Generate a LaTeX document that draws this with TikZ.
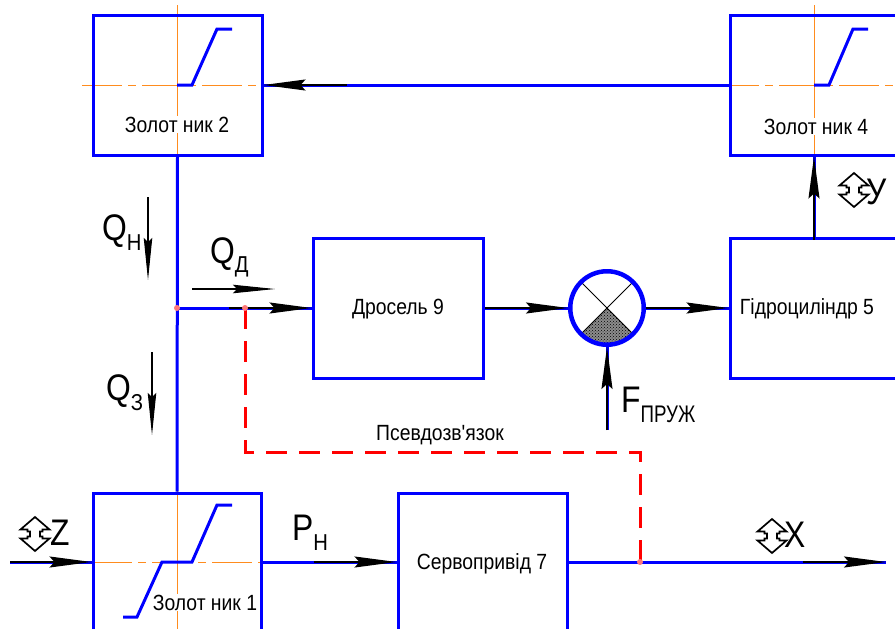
\documentclass[tikz,border=0pt]{standalone}
\usepackage{fontspec}
\newfontfamily\nar[FakeStretch=0.88]{Liberation Sans}
\newfontfamily\narb[FakeStretch=0.86]{Liberation Sans}
\newfontfamily\narr[FakeStretch=0.78]{Liberation Sans}
\usetikzlibrary{arrows.meta,patterns,calc}
\definecolor{orng}{RGB}{255,140,30}
\definecolor{pnk}{RGB}{255,120,120}
\newcommand\bigsub[4]{{\narb\fontsize{37}{37}\selectfont #1}\kern#3\raisebox{#4}{\nar\fontsize{23}{23}\selectfont #2}}
\tikzset{
  blbox/.style={draw=blue, line width=3pt, rectangle, inner sep=0pt},
  bl/.style={draw=blue, line width=3pt},
  ar/.style={draw=black, line width=1.6pt, -{Stealth[length=42pt,width=11pt,inset=5pt]}},
  qar/.style={draw=black, line width=1.1pt, -{Stealth[length=42pt,width=8.5pt,inset=4pt]}},
  cl/.style={draw=orng, line width=0.9pt},
  cldash/.style={draw=orng, line width=0.9pt, dash pattern=on 40pt off 6pt on 8pt off 6pt},
  stepline/.style={draw=blue, line width=3pt, line join=miter},
  boxtxt/.style={font=\nar\fontsize{22}{22}\selectfont, inner sep=1pt, anchor=base},
  lbl/.style={inner sep=0pt, anchor=base west},
  pseudo/.style={draw=red, line width=3pt, dash pattern=on 21pt off 12pt},
  jdot/.style={fill=pnk, draw=none},
  updn/.pic={\draw[line width=1.7pt, line join=miter] (0,-17) -- (-14.5,-4.5) -- (-7.5,-4.5) -- (-7.5,-2.5) -- (-5,-2.5) -- (-5,2.5) -- (-7.5,2.5) -- (-7.5,4.5) -- (-14.5,4.5) -- (0,17) -- (14.5,4.5) -- (7.5,4.5) -- (7.5,2.5) -- (5,2.5) -- (5,-2.5) -- (7.5,-2.5) -- (7.5,-4.5) -- (14.5,-4.5) -- cycle;}
}
\begin{document}
\begin{tikzpicture}[x=1pt,y=-1pt]
\useasboundingbox (0,0) rectangle (895,629);
\clip (0,0) rectangle (895,629);
\fill[white] (0,0) rectangle (895,629);

% centre lines (orange)
\draw[cl] (177,5) -- (177,168);
\draw[cldash] (82,85) -- (272,85);
\draw[cl] (814,5) -- (814,168);
\draw[cldash] (719,85) -- (900,85);
\draw[cl] (177,480) -- (177,640);
\draw[cldash] (92,562) -- (272,562);

% boxes
\node[blbox, minimum width=169pt, minimum height=140pt] (z2) at (177.5,85) {};
\node[blbox, minimum width=172pt, minimum height=140pt] (z4) at (816,85) {};
\node[blbox, minimum width=170pt, minimum height=140pt] (d9) at (398,308) {};
\node[blbox, minimum width=180pt, minimum height=140pt] (g5) at (820,308) {};
\node[blbox, minimum width=168pt, minimum height=138pt] (z1) at (177,562) {};
\node[blbox, minimum width=169pt, minimum height=138pt] (s7) at (482.5,562) {};
\node[draw=blue, line width=3pt, circle, minimum size=75pt, inner sep=0pt] (sum) at (607,308) {};

% summing junction interior
\fill[white] (sum.center) circle (35pt);
\fill[black!45] (sum.center) -- ($(sum.center)+(-25.5,25.5)$) arc[start angle=225, end angle=315, radius=36pt] -- cycle;
\path[pattern=crosshatch dots, pattern color=black] (sum.center) -- ($(sum.center)+(-25.5,25.5)$) arc[start angle=225, end angle=315, radius=36pt] -- cycle;
\draw[black, line width=0.9pt] ($(sum.center)+(-25.5,-25.5)$) -- ($(sum.center)+(25.5,25.5)$);
\draw[black, line width=0.9pt] ($(sum.center)+(25.5,-25.5)$) -- ($(sum.center)+(-25.5,25.5)$);
\draw[blue, line width=3pt] (sum.center) circle (36pt);

% step characteristics
\draw[stepline] (177,85) -- (192,85) -- (217,29) -- (232,29);
\draw[stepline] (814,85) -- (829,85) -- (853,29) -- (868,29);
\draw[stepline] (123,617) -- (137,617) -- (162,562) -- (192,562) -- (217,505) -- (232,505);

% box texts
\node[boxtxt, fill=white] (t2) at (177,132) {Золот ник 2};
\node[boxtxt, fill=white] (t4) at (816,134) {Золот ник 4};
\node[boxtxt] (t9) at (398,314) {Дросель 9};
\node[boxtxt] (t5) at (807,314) {Гідроциліндр 5};
\node[boxtxt] (t7) at (482,569) {Сервопривід 7};
\node[boxtxt, fill=white] (t1) at (205,610) {Золот ник 1};
\node[boxtxt] (tp) at (440,440) {Псевдозв'язок};

% named coordinates
\coordinate (jn) at (177,308);
\coordinate (vx) at (814,0);
\coordinate (fs) at (607,430);
\coordinate (zin) at (10,562);
\coordinate (xout) at (886,562);
\coordinate (pd1) at (245,308);
\coordinate (pm) at (640,452);
\coordinate (pd2) at (640,562);

% connectors (blue)
\draw[bl] (z4.west) -- (z2.east);
\draw[bl] (z2.south) -- (z1.north);
\draw[bl] (jn) -- (d9.west);
\draw[bl] (d9.east) -- (sum.west);
\draw[bl] (sum.east) -- (g5.west);
\draw[bl] (g5.north -| vx) -- (z4.south -| vx);
\draw[bl] (fs) -- (sum.south);
\draw[bl] (zin) -- (z1.west);
\draw[bl] (z1.east) -- (s7.west);
\draw[bl] (s7.east) -- (xout);

% pseudo link
\draw[pseudo] (pd1) |- (pm) -- (pd2);

% black arrow overlays
\draw[ar] ($(z2.east)+(83,0)$) -- (z2.east);
\draw[ar] ($(z4.south -| vx)+(0,83)$) -- (z4.south -| vx);
\draw[ar] ($(d9.west)+(-83,0)$) -- (d9.west);
\draw[ar] ($(sum.west)+(-83,0)$) -- (sum.west);
\draw[ar] ($(g5.west)+(-83,0)$) -- (g5.west);
\draw[ar] ($(sum.south)+(0,83)$) -- (sum.south);
\draw[ar] (zin) -- (z1.west);
\draw[ar] ($(s7.west)+(-83,0)$) -- (s7.west);
\draw[ar] ($(xout)+(-83,0)$) -- (xout);

% junction dots
\fill[jdot] (jn) circle (3pt);
\fill[jdot] (pd1) circle (3pt);
\fill[jdot] (pd2) circle (3pt);

% flow arrows
\coordinate (qn1) at (148,197); \coordinate (qn2) at (148,280);
\coordinate (qz1) at (152,352); \coordinate (qz2) at (152,435);
\coordinate (qd1) at (192,289); \coordinate (qd2) at (275,289);
\draw[qar] (qn1) -- (qn2);
\draw[qar] (qz1) -- (qz2);
\draw[qar] (qd1) -- (qd2);

% labels
\node[lbl] (lqn) at (102,240) {\bigsub{Q}{Н}{0pt}{-10pt}};
\node[lbl] (lqd) at (210,263) {\bigsub{Q}{Д}{0pt}{-9pt}};
\node[lbl] (lqz) at (106,400) {\bigsub{Q}{З}{0pt}{-10pt}};
\node[lbl] (lpn) at (292,540) {\bigsub{P}{Н}{0pt}{-10pt}};
\node[lbl] (lf) at (621,412) {{\narb\fontsize{37}{37}\selectfont F}\kern0pt\raisebox{-10pt}{\narr\fontsize{24}{24}\selectfont ПРУЖ}};

% displacement symbols
\pic at (35,534) {updn};
\node[lbl, font=\narb\fontsize{37}{37}\selectfont] (lz) at (50,545) {Z};
\pic at (854,190) {updn};
\node[lbl, font=\narb\fontsize{37}{37}\selectfont] (ly) at (866,204) {У};
\pic at (772,536) {updn};
\node[lbl, font=\narb\fontsize{37}{37}\selectfont] (lx) at (784,547) {X};
\end{tikzpicture}
\end{document}
